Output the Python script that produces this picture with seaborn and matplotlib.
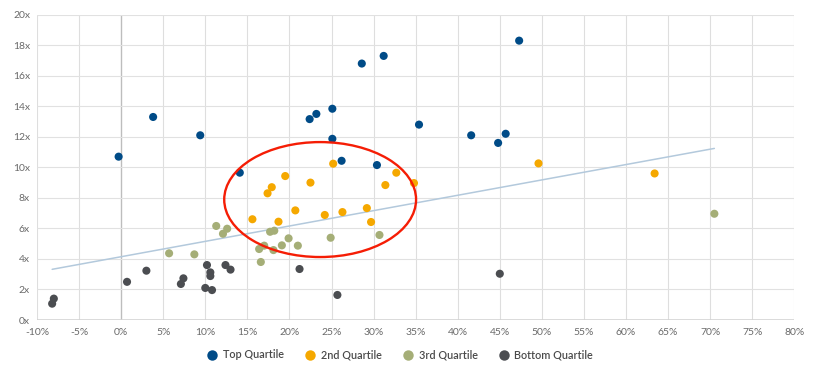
import numpy as np
import pandas as pd
import seaborn as sns
import matplotlib
matplotlib.use("Agg")
import matplotlib.pyplot as plt
from matplotlib.patches import Ellipse
from matplotlib.lines import Line2D

# ---- data ----
quartiles = ["Top Quartile", "2nd Quartile", "3rd Quartile", "Bottom Quartile"]
colors = ["#004b87", "#f5a800", "#a5ae77", "#4b4d51"]

top_x = [-0.3, 3.8, 9.4, 14.1, 22.4, 23.2, 25.1, 25.1, 26.2, 28.6, 31.2, 30.4, 35.4, 41.6, 44.8, 45.7, 47.3]
top_y = [10.7, 13.3, 12.1, 9.65, 13.16, 13.5, 13.84, 11.87, 10.43, 16.8, 17.3, 10.15, 12.8, 12.1, 11.6, 12.2, 18.3]

second_x = [15.6, 17.4, 17.9, 18.7, 19.5, 20.7, 22.5, 24.2, 25.2, 26.3, 29.2, 29.7, 31.4, 32.7, 34.8, 49.6, 63.4]
second_y = [6.6, 8.3, 8.7, 6.44, 9.43, 7.18, 9.0, 6.88, 10.24, 7.07, 7.33, 6.42, 8.84, 9.65, 8.97, 10.26, 9.6]

third_x = [5.7, 8.7, 11.3, 12.1, 12.6, 16.4, 16.6, 17.0, 17.7, 18.1, 18.2, 19.1, 19.9, 21.0, 24.9, 30.7, 70.5]
third_y = [4.37, 4.3, 6.16, 5.65, 5.98, 4.65, 3.8, 4.87, 5.78, 4.58, 5.85, 4.89, 5.35, 4.87, 5.39, 5.57, 6.96]

bottom_x = [-8.2, -8.0, 0.7, 3.0, 7.1, 7.4, 10.0, 10.2, 10.6, 10.6, 10.8, 12.4, 13.0, 21.2, 25.7, 45.0]
bottom_y = [1.07, 1.4, 2.5, 3.23, 2.36, 2.73, 2.1, 3.6, 3.12, 2.88, 1.96, 3.6, 3.3, 3.34, 1.64, 3.03]

trend_x = [-8.2, 70.5]
trend_y = [3.32, 11.24]

x_ticks = list(range(-10, 85, 5))
y_ticks = list(range(0, 22, 2))

ellipse_center = (23.65, 7.89)
ellipse_w, ellipse_h = 22.8, 7.53

df = pd.concat([
    pd.DataFrame({"x": top_x, "y": top_y, "Quartile": quartiles[0]}),
    pd.DataFrame({"x": second_x, "y": second_y, "Quartile": quartiles[1]}),
    pd.DataFrame({"x": third_x, "y": third_y, "Quartile": quartiles[2]}),
    pd.DataFrame({"x": bottom_x, "y": bottom_y, "Quartile": quartiles[3]}),
], ignore_index=True)

sns.set_theme(style="white")
plt.rcParams["font.family"] = ["Lato", "DejaVu Sans"]

fig = plt.figure(figsize=(8.30, 3.66), dpi=100)
ax = fig.add_axes([37 / 830, 1 - 320 / 366, (794.3 - 37) / 830, (320 - 14.7) / 366])

# grid
for xv in x_ticks:
    ax.axvline(xv, color="#bdbdbd" if xv == 0 else "#dedede", lw=1.0 if xv == 0 else 0.8, zorder=0)
for yv in y_ticks:
    ax.axhline(yv, color="#d4d4d4" if yv == 0 else "#e1e1e1", lw=1.2 if yv == 0 else 0.8, zorder=0)

# trend line
sns.lineplot(x=trend_x, y=trend_y, ax=ax, color="#b3c9dc", lw=1.1, zorder=1)

sns.scatterplot(data=df, x="x", y="y", hue="Quartile", hue_order=quartiles,
                palette=colors, s=34, edgecolor="none", linewidth=0, ax=ax,
                legend=False, zorder=3)

ax.add_patch(Ellipse(ellipse_center, ellipse_w, ellipse_h, fill=False,
                     edgecolor="#f51d05", lw=1.7, zorder=4))

ax.set_xlim(-10, 80)
ax.set_ylim(0, 20)
ax.set_xticks(x_ticks)
ax.set_xticklabels([f"{v}%" for v in x_ticks])
ax.set_yticks(y_ticks)
ax.set_yticklabels([f"{v}x" for v in y_ticks])
ax.tick_params(axis="both", length=0, labelsize=7.5, colors="#6a6a6a")
ax.tick_params(axis="x", pad=6)
ax.tick_params(axis="y", pad=5)
ax.set_xlabel("")
ax.set_ylabel("")
for s in ax.spines.values():
    s.set_visible(False)

handles = [Line2D([0], [0], marker="o", color="none", markerfacecolor=c,
                  markeredgecolor="none", markersize=7.5, label=q)
           for q, c in zip(quartiles, colors)]
leg = fig.legend(handles=handles, loc="center", bbox_to_anchor=(400 / 830, 1 - 355 / 366),
                 ncol=4, frameon=False, fontsize=7.8, handletextpad=0.5, columnspacing=1.9,
                 handlelength=1.0)
for t in leg.get_texts():
    t.set_color("#4a4a4a")
    t.set_fontweight("semibold")

fig.savefig("out.png", dpi=100, facecolor="white")
